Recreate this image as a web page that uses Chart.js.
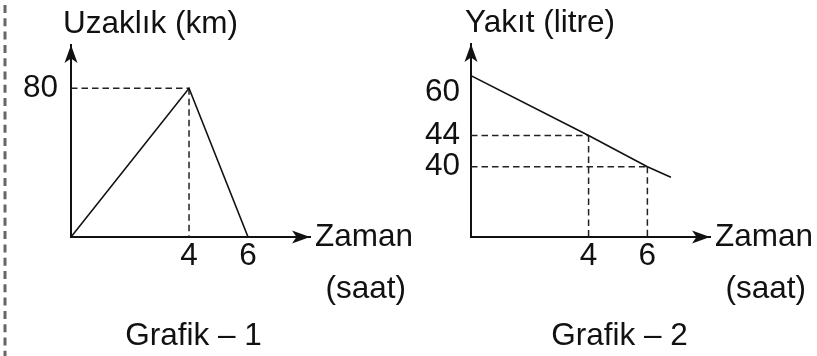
<!DOCTYPE html>
<html>
  <head>
    <meta charset="UTF-8" />
    <title>Grafik 1 - Grafik 2</title>
    <style>
      html,
      body {
        margin: 0;
        padding: 0;
        width: 100%;
        height: 100%;
        background: #fff;
      }
      .panel {
        position: absolute;
        top: 0;
        height: 356px;
      }
      #panel1 {
        left: 0;
        width: 420px;
        z-index: 2;
      }
      #panel2 {
        left: 410px;
        width: 407px;
        z-index: 1;
      }
    </style>
    <script src="https://cdn.jsdelivr.net/npm/chart.js"></script>
  </head>
  <body>
    <div class="panel" id="panel1"><canvas id="chart1"></canvas></div>
    <div class="panel" id="panel2"><canvas id="chart2"></canvas></div>
    <script>
      // Grafik 1: uzaklık (km) / zaman (saat)
      const distHours = [0, 4, 6];
      const distKm = [0, 80, 0];
      const distXTicks = [4, 6];
      const distYTicks = [80];
      const distMarkHours = [4];
      const distMarkKm = [80];

      // Grafik 2: yakıt (litre) / zaman (saat)
      const fuelHours = [0, 4, 6, 6.8];
      const fuelLitres = [60, 44, 40, 34];
      const fuelXTicks = [4, 6];
      const fuelYTicks = [40, 44, 60];
      const fuelMarkHours = [4, 6];
      const fuelMarkLitres = [44, 40];

      const FONT = "'Liberation Sans', Arial, sans-serif";
      const INK = "#111";
      const SIZE = 31.5;

      Chart.defaults.font.family = FONT;
      Chart.defaults.color = INK;

      // the fuel axis is not drawn to scale in the original, so map it piece by piece
      class BrokenScale extends Chart.LinearScale {
        _toDecimal(v) {
          const vals = this.options.breakValues;
          const fr = this.options.breakFractions;
          for (let i = 1; i < vals.length; i++) {
            if (v <= vals[i] || i === vals.length - 1) {
              const t = (v - vals[i - 1]) / (vals[i] - vals[i - 1]);
              return fr[i - 1] + t * (fr[i] - fr[i - 1]);
            }
          }
          return 0;
        }
        getPixelForValue(value) {
          if (value === null || isNaN(value)) return NaN;
          return this.getPixelForDecimal(this._toDecimal(value));
        }
        getValueForPixel(pixel) {
          const d = this.getDecimalForPixel(pixel);
          const vals = this.options.breakValues;
          const fr = this.options.breakFractions;
          for (let i = 1; i < fr.length; i++) {
            if (d <= fr[i] || i === fr.length - 1) {
              const t = (d - fr[i - 1]) / (fr[i] - fr[i - 1]);
              return vals[i - 1] + t * (vals[i] - vals[i - 1]);
            }
          }
          return 0;
        }
      }
      BrokenScale.id = "broken";
      BrokenScale.defaults = Chart.LinearScale.defaults;
      Chart.register(BrokenScale);

      function arrowHead(ctx, x, y, dir) {
        ctx.save();
        ctx.translate(x, y);
        if (dir === "right") ctx.rotate(Math.PI / 2);
        ctx.beginPath();
        ctx.moveTo(0, 0);
        ctx.lineTo(6.5, 18);
        ctx.lineTo(0, 13.5);
        ctx.lineTo(-6.5, 18);
        ctx.closePath();
        ctx.fillStyle = INK;
        ctx.fill();
        ctx.restore();
      }

      const sketchPlugin = {
        id: "sketch",
        beforeDatasetsDraw(chart, args, opts) {
          const { ctx, chartArea: a } = chart;
          const xs = chart.scales.x;
          const ys = chart.scales.y;
          ctx.save();
          ctx.strokeStyle = "#222";
          ctx.lineWidth = 1.5;
          ctx.setLineDash([6.5, 4]);
          opts.markX.forEach((mx, i) => {
            const px = xs.getPixelForValue(mx);
            const py = ys.getPixelForValue(opts.markY[i]);
            ctx.beginPath();
            ctx.moveTo(a.left, py);
            ctx.lineTo(px, py);
            ctx.moveTo(px, py);
            ctx.lineTo(px, a.bottom);
            ctx.stroke();
          });
          ctx.restore();
        },
        afterDraw(chart, args, opts) {
          const { ctx, chartArea: a } = chart;
          arrowHead(ctx, a.left, a.top, "up");
          arrowHead(ctx, a.right, a.bottom, "right");

          ctx.save();
          ctx.fillStyle = INK;
          ctx.font = SIZE + "px " + FONT;
          ctx.textBaseline = "alphabetic";
          ctx.textAlign = "left";
          ctx.fillText(opts.yTitle, a.left + opts.yTitleDx, a.top - 12);
          ctx.fillText("Zaman", a.right + 5, a.bottom + 9);
          ctx.fillText("(saat)", a.right + 15.5, a.bottom + 61);
          ctx.textAlign = "center";
          ctx.fillText(opts.caption, opts.captionX, 345);

          if (opts.leftRule) {
            ctx.strokeStyle = "#666";
            ctx.lineWidth = 3;
            ctx.setLineDash([8, 5.3]);
            ctx.beginPath();
            ctx.moveTo(5, -8.3);
            ctx.lineTo(5, chart.height);
            ctx.stroke();
          }
          ctx.restore();
        },
      };

      function xAxis(ticks, max) {
        return {
          type: "linear",
          min: 0,
          max: max,
          bounds: "data",
          afterBuildTicks: (s) => {
            s.ticks = ticks.map((v) => ({ value: v }));
          },
          afterFit: (s) => {
            s.height = 119;
          },
          grid: { display: false, drawTicks: false },
          border: { display: true, color: INK, width: 2 },
          ticks: {
            color: INK,
            font: { size: SIZE },
            padding: 0,
            maxRotation: 0,
            autoSkip: false,
            callback: (v) => String(v),
          },
        };
      }

      function yAxis(ticks, width, padding, extra) {
        return Object.assign(
          {
            type: "linear",
            min: 0,
            bounds: "data",
            afterBuildTicks: (s) => {
              s.ticks = ticks.map((v) => ({ value: v }));
            },
            afterFit: (s) => {
              s.width = width;
            },
            grid: { display: false, drawTicks: false },
            border: { display: true, color: INK, width: 2 },
            ticks: {
              color: INK,
              font: { size: SIZE, lineHeight: 1.05 },
              padding: padding,
              autoSkip: false,
              callback: (v) => String(v),
            },
          },
          extra
        );
      }

      function lineData(xs, ys) {
        return {
          datasets: [
            {
              data: xs.map((x, i) => ({ x: x, y: ys[i] })),
              borderColor: INK,
              borderWidth: 1.6,
              pointRadius: 0,
              tension: 0,
              fill: false,
            },
          ],
        };
      }

      new Chart(document.getElementById("chart1"), {
        type: "line",
        data: lineData(distHours, distKm),
        options: {
          responsive: true,
          maintainAspectRatio: false,
          animation: false,
          layout: { padding: { top: 45, right: 110, bottom: 0, left: 0 } },
          scales: {
            x: xAxis(distXTicks, 8.1),
            y: yAxis(distYTicks, 71, 13, { max: 103.3 }),
          },
          plugins: {
            legend: { display: false },
            tooltip: { enabled: false },
            sketch: {
              markX: distMarkHours,
              markY: distMarkKm,
              yTitle: "Uzaklık (km)",
              yTitleDx: -8,
              caption: "Grafik \u2013 1",
              captionX: 193.5,
              leftRule: true,
            },
          },
        },
        plugins: [sketchPlugin],
      });

      const fuelY = yAxis(fuelYTicks, 61, 11, {
        type: "broken",
        max: 68.6,
        breakValues: [0, 40, 44, 60, 68.6],
        breakFractions: [0, 0.364, 0.526, 0.836, 1],
      });
      // in the original the "60" sits a little below where the line starts
      fuelY.ticks.callback = (v, i, t) =>
        i === t.length - 1 ? ["", String(v)] : String(v);

      new Chart(document.getElementById("chart2"), {
        type: "line",
        data: lineData(fuelHours, fuelLitres),
        options: {
          responsive: true,
          maintainAspectRatio: false,
          animation: false,
          layout: { padding: { top: 44, right: 107, bottom: 0, left: 0 } },
          scales: {
            x: xAxis(fuelXTicks, 8.13),
            y: fuelY,
          },
          plugins: {
            legend: { display: false },
            tooltip: { enabled: false },
            sketch: {
              markX: fuelMarkHours,
              markY: fuelMarkLitres,
              yTitle: "Yakıt (litre)",
              yTitleDx: -6,
              caption: "Grafik \u2013 2",
              captionX: 209.5,
              leftRule: false,
            },
          },
        },
        plugins: [sketchPlugin],
      });
    </script>
  </body>
</html>
